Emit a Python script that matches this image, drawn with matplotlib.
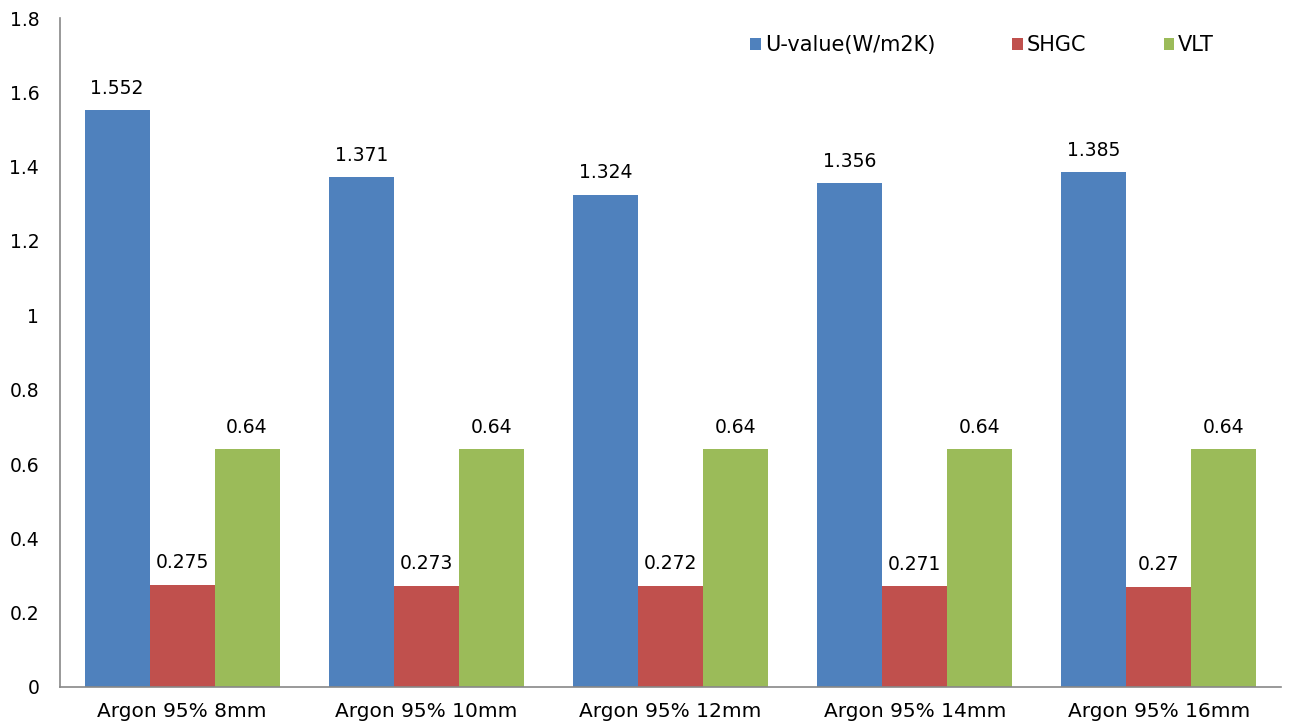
import matplotlib
matplotlib.use("Agg")
import matplotlib.pyplot as plt
import numpy as np

plt.rcParams['font.family'] = ['DejaVu Sans']

categories = ["Argon 95% 8mm", "Argon 95% 10mm", "Argon 95% 12mm", "Argon 95% 14mm", "Argon 95% 16mm"]
u_value = [1.552, 1.371, 1.324, 1.356, 1.385]
shgc = [0.275, 0.273, 0.272, 0.271, 0.27]
vlt = [0.64, 0.64, 0.64, 0.64, 0.64]
series_names = ["U-value(W/m2K)", "SHGC", "VLT"]
colors = ["#4F81BD", "#C0504D", "#9BBB59"]

FS = 13.5

fig = plt.figure(figsize=(12.89, 7.24), dpi=100)
ax = fig.add_axes([60/1289, 1 - 687/724, (1281-60)/1289, (687-18)/724])

x = np.arange(len(categories))
w = 0.266
for i, (vals, name, c) in enumerate(zip([u_value, shgc, vlt], series_names, colors)):
    bars = ax.bar(x + (i - 1) * w, vals, w, color=c, label=name, linewidth=0)
    for b, v in zip(bars, vals):
        ax.annotate(f"{v:g}", (b.get_x() + b.get_width() / 2, v),
                    xytext=(0, 9), textcoords="offset points",
                    ha="center", va="bottom", fontsize=FS)

ax.set_xlim(-0.5, 4.5)
ax.set_ylim(0, 1.8)
ax.set_yticks(np.arange(0, 1.81, 0.2))
ax.set_yticklabels(["0", "0.2", "0.4", "0.6", "0.8", "1", "1.2", "1.4", "1.6", "1.8"])
ax.set_xticks(x)
ax.set_xticklabels(categories)
ax.tick_params(axis='y', length=0, labelsize=FS, pad=15)
ax.tick_params(axis='x', length=0, labelsize=14.5, pad=11)
for s in ["top", "right"]:
    ax.spines[s].set_visible(False)
for s in ["left", "bottom"]:
    ax.spines[s].set_color("#888888")
    ax.spines[s].set_linewidth(1.2)

leg = ax.legend(loc="center right", bbox_to_anchor=(1214/1289, 1 - 45/724),
                bbox_transform=fig.transFigure, borderpad=0, borderaxespad=0,
                ncol=3, frameon=False,
                fontsize=15, handlelength=0.5, handleheight=0.5, handletextpad=0.2,
                columnspacing=3.7)

fig.savefig("out.png", dpi=100)
